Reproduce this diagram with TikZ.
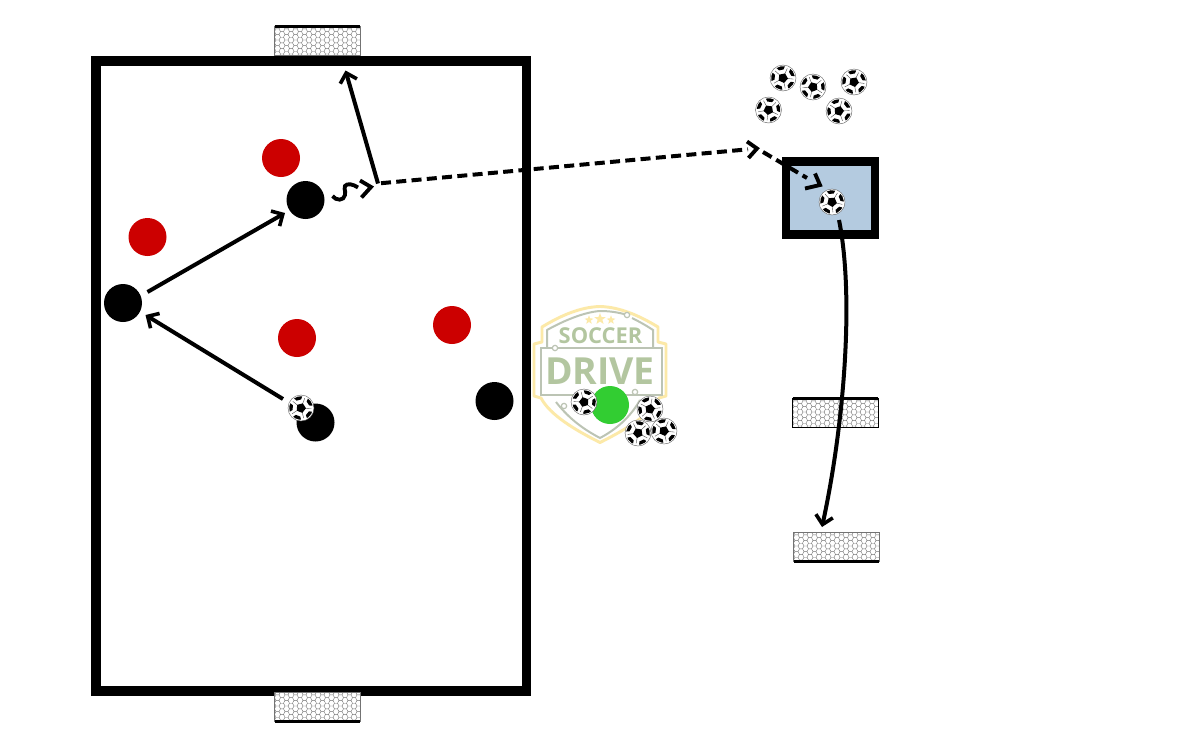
\documentclass[tikz,border=0pt]{standalone}
\usepackage{fontspec}
\setmainfont{Open Sans}
\usetikzlibrary{arrows.meta,shapes.geometric}
\definecolor{redp}{HTML}{CC0000}
\definecolor{greenp}{HTML}{32CD32}
\definecolor{boxblue}{HTML}{B4CBE0}
\definecolor{sage}{HTML}{B3C6A0}
\definecolor{logogrey}{HTML}{BCC4B4}
\definecolor{logoyel}{HTML}{FCE9A8}
\tikzset{
  player/.style={circle,minimum size=28.5pt,inner sep=0pt,draw=none},
  redplayer/.style={player,fill=redp},
  blackplayer/.style={player,fill=black},
  greenplayer/.style={player,fill=greenp},
  move/.style={line width=3pt,-{Straight Barb[length=6.5pt,width=13pt,line width=2.7pt]}},
  pass/.style={line width=3pt,dash pattern=on 7.5pt off 4pt},
  barb/.style={line width=2.9pt},
  ballbase/.style={circle,minimum size=19.5pt,inner sep=0pt,draw=black!65,line width=.3pt,fill=white},
  netbase/.style={rectangle,minimum width=63.75pt,minimum height=21pt,inner sep=0pt},
  mesh/.style={line width=.3pt,draw=black!55},
}
\newcommand{\ballat}[4]{%
  \node[ballbase] (#1) at (#2,#3) {};
  \begin{scope}[shift={(#2,#3)},rotate=#4]
    \begin{scope}
      \clip (0,0) circle (11.8);
      \foreach \a in {0,72,...,288}{
        \draw[line width=.3pt,black!70] (\a+90:4) -- (\a+90:10.5);
        \fill[black] (\a+54-16:8.6) -- (\a+54+16:8.6) -- (\a+54+23:14) -- (\a+54-23:14) -- cycle;
      }
      \fill[black] (90:5) -- (162:5) -- (234:5) -- (306:5) -- (18:5) -- cycle;
    \end{scope}
  \end{scope}}
\newcommand{\netat}[5]{% name, cx, cy, bar side (+1 top / -1 bottom), outline
  \node[netbase,fill=white] (#1) at (#2,#3) {};
  \begin{scope}
    \clip (#1.south west) rectangle (#1.north east);
    \begin{scope}[shift={(#2-46,#3-15)}]
      \foreach \r in {0,...,11}{
        \foreach \c in {0,...,12}{
          \pgfmathsetmacro{\xo}{\c*9+mod(\r,2)*4.5}
          \pgfmathsetmacro{\yo}{\r*2.8}
          \draw[mesh] (\xo-1.5,\yo+2.8) -- (\xo,\yo) -- (\xo+3,\yo) -- (\xo+4.5,\yo+2.8);
        }
      }
    \end{scope}
  \end{scope}
  \draw[#5,line width=.8pt] (#1.south west) rectangle (#1.north east);
  \ifnum#4>0
    \draw[black,line width=2.1pt] (#1.north west) -- (#1.north east);
  \else
    \draw[black,line width=2.1pt] (#1.south west) -- (#1.south east);
  \fi}
\begin{document}
\begin{tikzpicture}[x=.75pt,y=-.75pt]
\useasboundingbox (0,0) rectangle (1200,750);
\fill[white] (0,0) rectangle (1200,750);

% logo
\begin{scope}
\draw[logoyel,line width=2.2pt,line join=round,fill=white]
  (600,306.5) .. controls (580,307) and (560,316) .. (542,327) -- (542,342) -- (534,344) -- (534,396) -- (541,398)
  .. controls (550,415) and (575,430) .. (600,442.5)
  .. controls (625,430) and (650,415) .. (659,398) -- (666,396) -- (666,344) -- (658,342) -- (658,327)
  .. controls (640,316) and (620,307) .. (600,306.5) -- cycle;
\draw[logogrey,line width=1.5pt,line join=round]
  (627,315) .. controls (618,312) and (608,311) .. (600,311)
  .. controls (585,312) and (565,320) .. (547,330) -- (547,347);
\draw[logogrey,line width=1.5pt] (653,347) -- (653,330) .. controls (647,326) and (640,322) .. (632,318);
\draw[logogrey,line width=1.5pt] (541,347.5) rectangle (662,394.5);
\draw[logogrey,line width=1.5pt] (556,402) .. controls (570,420) and (585,430) .. (600,438)
  .. controls (615,430) and (630,418) .. (640,400);
\foreach \n/\x/\y in {la/627/315,lb/555/348,lc/635/392,ld/564/406}{
  \node[circle,draw=logogrey,line width=.9pt,fill=white,minimum size=4pt,inner sep=0pt] (\n) at (\x,\y) {};
}
\foreach \n/\x/\y/\s in {sa/589/320/7,sb/600/319/9,sc/611/320/7}{
  \node[star,star points=5,star point ratio=2.4,fill=logoyel,minimum size=\s pt,inner sep=0pt] (\n) at (\x,\y) {};
}
\node[text=sage,font=\bfseries\fontsize{16.4}{17}\selectfont,inner sep=0pt] (soccer) at (600.5,336) {SOCCER};
\node[text=sage,font=\bfseries\fontsize{28}{28}\selectfont,inner sep=0pt] (drive) at (600,371) {DRIVE};
\end{scope}

% field
\draw[black,line width=7.4pt,miter limit=10] (96,61) rectangle (526.5,691);

% nets
\netat{nettop}{317.5}{41}{1}{black!55}
\netat{netbot}{317.5}{707}{-1}{black!55}
\netat{netmid}{835.5}{413}{1}{black}
\netat{netlow}{836.5}{547}{-1}{black!55}

% blue box
\draw[black,fill=boxblue,line width=6.4pt] (786,161.5) rectangle (875,234.5);

% players
\node[redplayer] (r1) at (281,158) {};
\node[redplayer] (r2) at (147.5,237) {};
\node[redplayer] (r3) at (297,338) {};
\node[redplayer] (r4) at (452,325) {};
\node[blackplayer] (k1) at (305.5,200) {};
\node[blackplayer] (k2) at (123,303) {};
\node[blackplayer] (k3) at (315.5,422.5) {};
\node[blackplayer] (k4) at (494.5,401) {};
\node[greenplayer] (g1) at (610,405) {};

% balls
\ballat{b1}{783}{78}{12}
\ballat{b2}{813}{87}{-15}
\ballat{b3}{854}{82}{10}
\ballat{b4}{768.5}{110}{-8}
\ballat{b5}{839}{111}{20}
\ballat{b6}{832}{202}{5}
\ballat{b7}{301}{408}{15}
\ballat{b8}{584}{402}{-20}
\ballat{b9}{650}{409}{25}
\ballat{b10}{638}{433}{-10}
\ballat{b11}{664}{431}{12}

% connector ends
\coordinate (a1s) at (147.5,292);
\coordinate (a1e) at (285,213);
\coordinate (a2s) at (283,399);
\coordinate (a2e) at (145.5,315);
\coordinate (hub) at (378,183.5);
\coordinate (dstart) at (381,183.2);
\coordinate (a3e) at (345.5,70.5);
\coordinate (dmid) at (757,148.5);
\coordinate (dstop) at (748,149.3);
\coordinate (dsec) at (763,152);
\coordinate (dend) at (820,185);
\coordinate (dlast) at (807,178);
\coordinate (a4s) at (839,220);
\coordinate (a4e) at (822,527);

\draw[move] (a1s) -- (a1e);
\draw[move] (a2s) -- (a2e);
\draw[move] (hub) -- (a3e);
\draw[move] (a4s) .. controls (855,300) and (843,430) .. (a4e);
\draw[pass] (dstart) -- (dstop);
\draw[pass] (dsec) -- (dlast);
\coordinate (h1a) at (747,141.5); \coordinate (h1b) at (748.5,158);
\draw[barb] (h1a) -- (dmid) -- (h1b);
\coordinate (h2a) at (805,188.5); \coordinate (h2b) at (815,173.5);
\draw[barb] (h2a) -- (dend) -- (h2b);
% dribble
\coordinate (s1) at (332.5,196);
\coordinate (s2) at (358,187.5);
\draw[line width=2.9pt] (s1) .. controls (336,201) and (344,201) .. (345,195)
  .. controls (346,189) and (343,188) .. (345,186) .. controls (347,183) and (353,184) .. (s2);
\coordinate (h3a) at (360,180.5); \coordinate (h3t) at (371,187); \coordinate (h3b) at (361.5,197.5);
\draw[barb] (h3a) -- (h3t) -- (h3b);
\end{tikzpicture}
\end{document}
